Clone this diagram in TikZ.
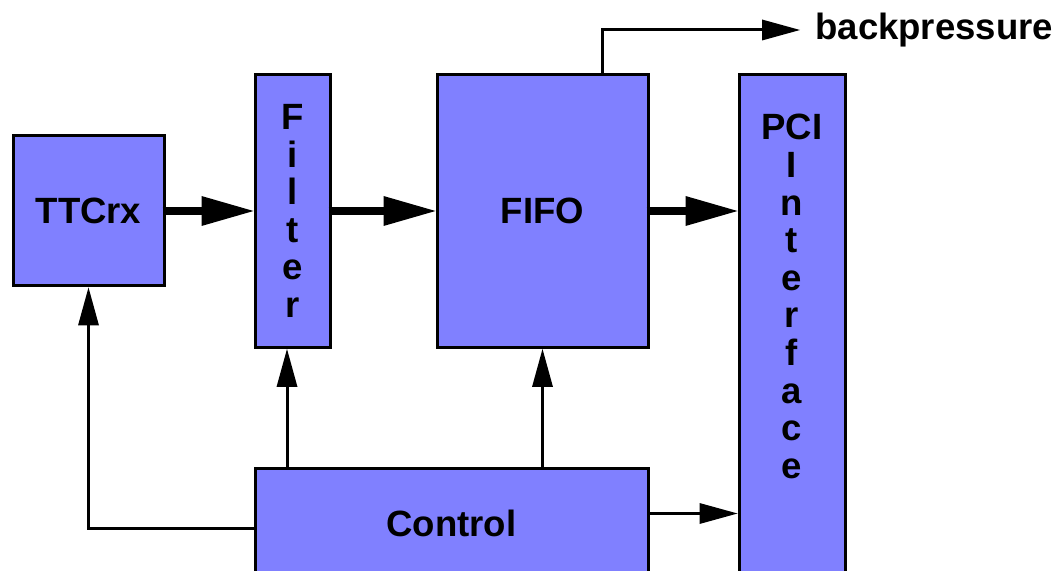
\documentclass[tikz,border=0pt]{standalone}
\usepackage{fontspec}
\setmainfont{Liberation Sans}
\usetikzlibrary{arrows.meta,positioning,calc}
\definecolor{blockBlue}{RGB}{128,128,255}

\begin{document}
\begin{tikzpicture}[
  font=\bfseries\fontsize{20.8pt}{21.4pt}\selectfont,
  block/.style={draw,line width=0.06cm,fill=blockBlue,align=center,inner sep=0pt},
  txt/.style={align=center,inner sep=0pt},
  bigarrow/.style={-{Triangle[length=1.04cm,width=0.6cm,line width=0pt]},line width=0.16cm},
  arrow/.style={-{Triangle[length=0.76cm,width=0.42cm,line width=0pt]},line width=0.06cm}
]
\clip (0,0) rectangle (21.22,11.4);
\node[block,minimum width=3.02cm,minimum height=3cm] (ttcrx) at (1.77,7.18) {TTCrx};
\node[block,minimum width=1.5cm,minimum height=5.46cm,right=1.76cm of ttcrx] (filter) {F\\i\\l\\t\\e\\r};
\node[block,minimum width=4.22cm,minimum height=5.46cm,right=2.08cm of filter] (fifo) {FIFO};
\node[block,minimum width=2.12cm,minimum height=10.52cm,anchor=north west] (pci) at ([xshift=1.76cm]fifo.north east) {};
\node[txt,below=0.82cm of pci.north] (pcitext) {PCI\\I\\n\\t\\e\\r\\f\\a\\c\\e};
\node[block,minimum width=7.86cm,minimum height=2.2cm,anchor=north west] (ctrl) at ([yshift=-2.36cm]filter.south west) {Control};
\node[txt,anchor=west] (bp) at (16.3,10.8) {backpressure};

% data path
\draw[bigarrow] ([xshift=-0.06cm]ttcrx.east) -- (filter.west);
\draw[bigarrow] ([xshift=-0.06cm]filter.east) -- (fifo.west);
\draw[bigarrow] ([xshift=-0.06cm]fifo.east) -- (fifo.east -| pci.west);
% control lines
\draw[arrow] ([xshift=-0.11cm]ctrl.north -| filter.south) -- ([xshift=-0.11cm]filter.south);
\draw[arrow] (ctrl.north -| fifo.south) -- (fifo.south);
\draw[arrow] ([yshift=-0.1cm]ctrl.west) -| (ttcrx.south);
\draw[arrow] ([yshift=0.2cm]ctrl.east) -- ([yshift=0.2cm]ctrl.east -| pci.west);
\draw[arrow] ([xshift=1.2cm]fifo.north) |- ([xshift=-0.3cm]bp.west);
\end{tikzpicture}
\end{document}
